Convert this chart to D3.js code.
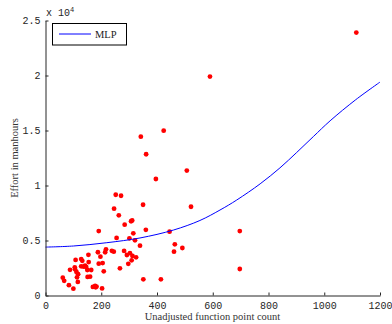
<!DOCTYPE html>
<html><head><meta charset="utf-8">
<script src="https://cdn.jsdelivr.net/npm/d3@7"></script>
<style>body{margin:0;background:#fff}svg{display:block}</style>
</head><body>
<script>
// Scatter data: unadjusted function points vs effort (manhours)
const fpCount = [1115,590,424,342,361,396,507,522,252,271,350,246,263,191,284,307,311,315,360,445,697,255,301,321,339,464,461,491,697,351,414,
  62,67,84,100,88,106,105,108,128,132,128,137,142,146,111,117,113,116,154,155,164,151,170,178,183,180,203,188,197,191,205,209,214,217,238,245,267,282,292,303,312,325,309,297,150,160];
const effort = [23900,19900,14980,14440,12840,10590,11360,8070,9160,9070,8250,7890,7290,5860,6440,6750,6820,5650,5970,5800,5860,5230,5200,5020,4530,4650,3980,4320,2410,1470,1470,
  1620,1330,940,620,2330,2380,2560,3230,3310,3150,2650,2620,2710,2590,2140,1940,1650,1230,3700,3040,2320,1690,780,870,810,740,640,3930,3530,2890,2950,2200,3930,4200,4060,3980,2470,4050,3680,3850,3600,3470,3200,2880,2320,1710];
// MLP fitted curve
const mlpX = [0,100,220,339,459,554,626,686,770,841,901,961,1021,1113,1200];
const mlpY = [4400,4500,4800,5230,5950,6820,7770,8680,10150,11600,13000,14450,15880,17800,19400];
const xTicks = [0,200,400,600,800,1000,1200];
const yTicks = [0,5000,10000,15000,20000,25000];
const yTickLabels = ["0","0.5","1","1.5","2","2.5"];

const W=392,H=324;
const svg=d3.select("body").append("svg").attr("width",W).attr("height",H);
const x=d3.scaleLinear().domain([0,1200]).range([45.5,380]);
const y=d3.scaleLinear().domain([0,25000]).range([295.5,20.5]);
const axisCol="#262626";
const mono="'Liberation Mono','DejaVu Sans Mono',monospace";
const serif="'Liberation Serif','DejaVu Serif',serif";

// points
svg.append("g").selectAll("circle").data(fpCount.map((v,i)=>[v,effort[i]])).join("circle")
  .attr("cx",d=>x(d[0])).attr("cy",d=>y(d[1])).attr("r",2.4).attr("fill","#ff0000");

// curve
const line=d3.line().x(d=>x(d[0])).y(d=>y(d[1])).curve(d3.curveCatmullRom.alpha(0.5));
svg.append("path").datum(mlpX.map((v,i)=>[v,mlpY[i]])).attr("d",line)
  .attr("fill","none").attr("stroke","#0000ff").attr("stroke-width",1);

// axes
const xa=svg.append("g").attr("transform","translate(0,295.5)")
  .call(d3.axisBottom(x).tickValues(xTicks).tickFormat(d3.format("d")).tickSizeInner(-3).tickSizeOuter(0).tickPadding(6));
const ya=svg.append("g").attr("transform","translate(45.5,0)")
  .call(d3.axisLeft(y).tickValues(yTicks).tickFormat((d,i)=>yTickLabels[i]).tickSizeInner(-3).tickSizeOuter(0).tickPadding(5));
[xa,ya].forEach(a=>{
  a.select(".domain").attr("stroke",axisCol);
  a.selectAll(".tick line").attr("stroke",axisCol);
  a.selectAll("text").attr("fill",axisCol).style("font-family",mono).style("font-size","10px");
});

// exponent label
const ex=svg.append("text").attr("x",46).attr("y",16).attr("fill",axisCol).style("font-family",mono).style("font-size","10px");
ex.append("tspan").text("x 10");
ex.append("tspan").attr("dy",-4).style("font-size","7px").text("4");

// axis labels
svg.append("text").attr("x",212.5).attr("y",320).attr("text-anchor","middle").attr("fill","#333")
  .style("font-family",serif).style("font-size","10.5px").text("Unadjusted function point count");
svg.append("text").attr("transform","translate(18,158) rotate(-90)").attr("text-anchor","middle").attr("fill","#333")
  .style("font-family",serif).style("font-size","10.5px").text("Effort in manhours");

// legend
svg.append("rect").attr("x",52.5).attr("y",23.5).attr("width",74).attr("height",21.5)
  .attr("fill","#fff").attr("stroke","#000").attr("stroke-width",1);
svg.append("line").attr("x1",59).attr("x2",91).attr("y1",34).attr("y2",34).attr("stroke","#0000ff").attr("stroke-width",1);
svg.append("text").attr("x",95).attr("y",38).attr("fill","#222").style("font-family",serif).style("font-size","10.5px").text("MLP");
</script>
</body></html>
